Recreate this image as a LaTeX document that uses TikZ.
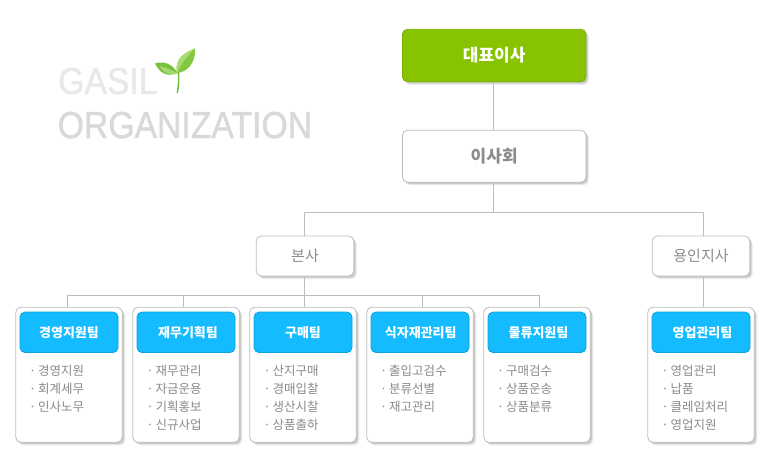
\documentclass[tikz,border=0pt]{standalone}
\usepackage{fontspec}
\usetikzlibrary{shadows,calc}
\setmainfont{Noto Sans CJK KR}
\newfontfamily\latinlogo[FakeBold=1.3]{Liberation Sans}
\definecolor{ceogreen}{HTML}{88C300}
\definecolor{ceoedge}{HTML}{7AAE00}
\definecolor{teamblue}{HTML}{14BBFF}
\definecolor{teamedge}{HTML}{0CA0DC}
\definecolor{edgegray}{HTML}{BDBDBD}
\definecolor{textgray}{HTML}{8C8C8C}
\definecolor{listgray}{HTML}{8A8A8A}
\definecolor{leafstem}{HTML}{6CBE3C}
\definecolor{leafdark}{HTML}{78C33C}
\definecolor{leaflight}{HTML}{A5D773}
\definecolor{leafmid}{HTML}{82C841}
\definecolor{leafpale}{HTML}{AADC73}
\tikzset{
  softshadow/.style={
    drop shadow={shadow xshift=3.2pt,shadow yshift=-3.2pt,fill=black,opacity=.05},
    drop shadow={shadow xshift=2.4pt,shadow yshift=-2.4pt,fill=black,opacity=.08},
    drop shadow={shadow xshift=1.6pt,shadow yshift=-1.6pt,fill=black,opacity=.10}},
  boxbase/.style={rounded corners=5pt,inner sep=0pt,outer sep=0pt,line width=.8pt,anchor=center},
  ceobox/.style={boxbase,draw=ceoedge,fill=ceogreen,softshadow,minimum width=183.5pt,minimum height=52.5pt,text=white,font=\fontsize{17}{18}\selectfont\bfseries},
  whitebox/.style={boxbase,draw=edgegray,fill=white,softshadow,text=textgray},
  boardbox/.style={whitebox,minimum width=183.5pt,minimum height=52pt,font=\fontsize{17}{18}\selectfont\bfseries},
  officebox/.style={whitebox,minimum width=97.5pt,minimum height=40pt,font=\fontsize{15}{18}\selectfont},
  cardbox/.style={boxbase,draw=edgegray,fill=white,softshadow,minimum width=106.5pt,minimum height=135pt},
  teambox/.style={boxbase,draw=teamedge,fill=teamblue,minimum width=98pt,minimum height=40.5pt,text=white,font=\fontsize{13}{16}\selectfont\bfseries},
  listtext/.style={anchor=north west,inner sep=0pt,align=left,text=listgray,font=\fontsize{12.5}{18}\selectfont},
  wire/.style={draw=edgegray,line width=.8pt},
  logotext/.style={anchor=base west,inner sep=0pt,font=\latinlogo\fontsize{37.5}{40}\selectfont}
}
\newcommand{\li}[1]{\makebox[9pt][l]{·}#1}
\begin{document}
\begin{tikzpicture}[x=1pt,y=-1pt]
\useasboundingbox (0,0) rectangle (770,464);
% logo
\node[logotext,text=black!9] (gasil) at (58,94) {\scalebox{.9}[1]{GASIL}};
\node[logotext,text=black!15] (orga) at (57.5,138) {\scalebox{.9}[1]{ORGANIZATION}};
\fill[leafstem] (176.5,93) .. controls (178,85) and (178.5,79) .. (177.5,72) -- (179,71) .. controls (180,79) and (179.5,86) .. (178,93) -- cycle;
\fill[leafdark] (155,63.5) .. controls (163,61) and (172,63) .. (177.5,73) .. controls (168,77) and (160,74) .. (155,63.5) -- cycle;
\fill[leaflight] (160,66) .. controls (166,68) and (172,70) .. (177.5,73) .. controls (170,76) and (163,73) .. (160,66) -- cycle;
\fill[leafmid] (195,48.5) .. controls (186,52) and (174,58) .. (177,73) .. controls (188,72) and (196,62) .. (195,48.5) -- cycle;
\fill[leafpale] (195,48.5) .. controls (188,55) and (181,64) .. (177,73) .. controls (174,58) and (186,52) .. (195,48.5) -- cycle;
% top
\node[ceobox] (ceo) at (494.2,55.5) {대표이사};
\node[boardbox] (board) at (494.2,156.2) {이사회};
\node[officebox] (hq) at (305,256) {본사};
\node[officebox] (yongin) at (701,256) {용인지사};
% cards
\foreach \n/\cx in {1/69,2/186,3/303,4/420,5/537,6/701}{
  \node[cardbox] (card\n) at (\cx,374.8) {};
}
\node[teambox] (team1) at (69,332.3) {경영지원팀};
\node[teambox] (team2) at (186,332.3) {\hspace*{4pt}재무기획팀};
\node[teambox] (team3) at (303,332.3) {구매팀};
\node[teambox] (team4) at (420,332.3) {\hspace*{1.5pt}식자재관리팀};
\node[teambox] (team5) at (537,332.3) {\hspace*{3pt}물류지원팀};
\node[teambox] (team6) at (701,332.3) {\hspace*{3pt}영업관리팀};
\node[listtext] (list1) at (29,365) {\li{경영지원}\\\li{회계세무}\\\li{인사노무}};
\node[listtext] (list2) at (146.5,365) {\li{재무관리}\\\li{자금운용}\\\li{기획홍보}\\\li{신규사업}};
\node[listtext] (list3) at (263.5,365) {\li{산지구매}\\\li{경매입찰}\\\li{생산시찰}\\\li{상품출하}};
\node[listtext] (list4) at (380,365) {\li{출입고검수}\\\li{분류선별}\\\li{재고관리}};
\node[listtext] (list5) at (497,365) {\li{구매검수}\\\li{상품운송}\\\li{상품분류}};
\node[listtext] (list6) at (661.5,365) {\li{영업관리}\\\li{납품}\\\li{클레임처리}\\\li{영업지원}};
% connectors
\coordinate (trunk) at (493.5,212);
\coordinate (hqtop) at (304.5,212);
\coordinate (yitop) at (703.3,212);
\coordinate (busl) at (67.7,295);
\coordinate (busr) at (539.3,295);
\coordinate (bus2) at (183.3,295);
\coordinate (bus3) at (304.5,295);
\coordinate (bus4) at (422.3,295);
\path[wire] (trunk |- ceo.south) -- (trunk |- board.north);
\path[wire] (trunk |- board.south) -- (trunk);
\path[wire] (hqtop |- hq.north) -- (hqtop) -- (yitop) -- (yitop |- yongin.north);
\path[wire] (bus3 |- hq.south) -- (bus3);
\path[wire] (busl) -- (busr);
\path[wire] (busl) -- (busl |- card1.north);
\path[wire] (bus2) -- (bus2 |- card2.north);
\path[wire] (bus3) -- (bus3 |- card3.north);
\path[wire] (bus4) -- (bus4 |- card4.north);
\path[wire] (busr) -- (busr |- card5.north);
\path[wire] (yitop |- yongin.south) -- (yitop |- card6.north);
\end{tikzpicture}
\end{document}
